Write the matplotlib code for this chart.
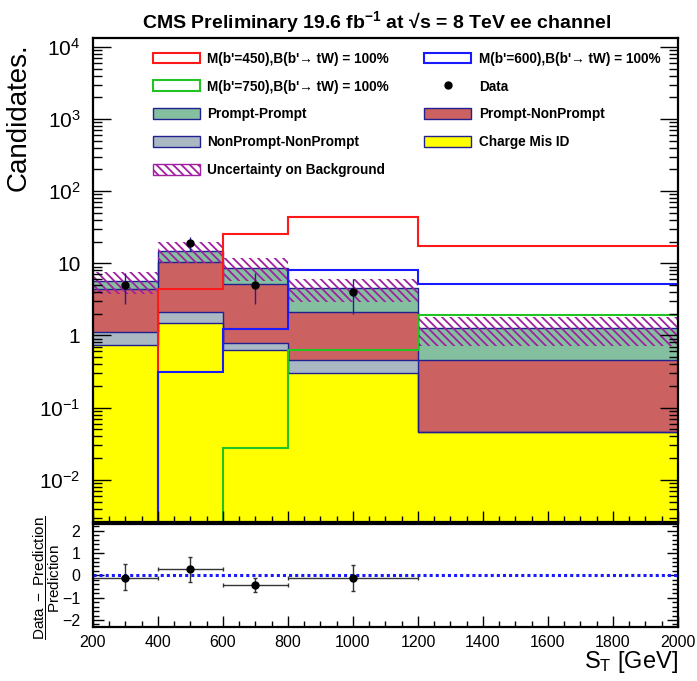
import numpy as np
import matplotlib
matplotlib.use("Agg")
import matplotlib.pyplot as plt
from matplotlib.patches import Patch
from matplotlib.lines import Line2D
from matplotlib.ticker import FixedLocator, MultipleLocator, LogLocator, NullFormatter

plt.rcParams['font.family'] = ['Liberation Sans', 'DejaVu Sans']
plt.rcParams['mathtext.fontset'] = 'custom'
plt.rcParams['mathtext.rm'] = 'Liberation Sans'
plt.rcParams['mathtext.bf'] = 'Liberation Sans:bold'
plt.rcParams['mathtext.it'] = 'Liberation Sans:italic'
plt.rcParams['hatch.linewidth'] = 1.3

# binning in S_T [GeV]
edges = np.array([200, 400, 600, 800, 1200, 2000])

# backgrounds (stacked, bottom to top)
charge_misid = np.array([0.74, 1.48, 0.63, 0.30, 0.046])
nonprompt_nonprompt = np.array([0.39, 0.62, 0.15, 0.15, 0.0])
prompt_nonprompt = np.array([3.24, 8.4, 4.32, 1.65, 0.41])
prompt_prompt = np.array([1.33, 4.5, 3.6, 2.4, 0.80])
bkg_err = np.array([2.0, 4.8, 3.0, 1.6, 0.55])

# signals
sig450 = np.array([0.0, 4.45, 25.5, 43.4, 17.2])
sig600 = np.array([0.0, 0.31, 1.22, 8.0, 5.2])
sig750 = np.array([0.0, 0.0, 0.028, 0.63, 1.95])

# data
data = np.array([5, 19, 5, 4, 0])

# ratio panel (Data - Prediction) / Prediction
ratio = np.array([-0.10, 0.27, -0.44, -0.13])
ratio_up = np.array([0.60, 0.57, 0.34, 0.58])
ratio_dn = np.array([0.56, 0.56, 0.31, 0.55])

c_yellow = '#ffff00'
c_npnp = '#aab8c4'
c_pnp = '#cc6161'
c_pp = '#84bf9f'
c_edge = '#202090'
c_hatch = '#a020a0'

fig = plt.figure(figsize=(6.97, 6.81), dpi=100)
ax = fig.add_axes([0.1334, 0.234, 0.8393, 0.710])
rax = fig.add_axes([0.1334, 0.0797, 0.8393, 0.1508])

centers = 0.5 * (edges[1:] + edges[:-1])
halfw = 0.5 * np.diff(edges)
floor = 1e-5

# stacked backgrounds
layers = [(charge_misid, c_yellow), (nonprompt_nonprompt, c_npnp),
          (prompt_nonprompt, c_pnp), (prompt_prompt, c_pp)]
base = np.full(len(centers), floor)
cum = np.zeros(len(centers))
for vals, col in layers:
    top = cum + vals
    ax.stairs(np.maximum(top, floor), edges, baseline=base, fill=True,
              color=col, linewidth=0)
    cum = top
    base = np.maximum(top, floor)
cum = np.zeros(len(centers))
for vals, col in layers:
    cum = cum + vals
    ax.stairs(np.maximum(cum, floor), edges, baseline=None, color=c_edge, linewidth=1.0)

total = cum
# uncertainty band
ax.bar(edges[:-1], 2 * bkg_err, width=np.diff(edges), bottom=total - bkg_err,
       align='edge', fill=False, hatch='\\\\\\\\', edgecolor=c_hatch, linewidth=0)

# signals
ax.stairs(np.maximum(sig450, floor), edges, baseline=None, color='#ff1a1a', linewidth=1.5)
ax.stairs(np.maximum(sig600, floor), edges, baseline=None, color='#1a1aff', linewidth=1.5)
ax.stairs(np.maximum(sig750, floor), edges, baseline=None, color='#22c322', linewidth=1.5)

# data
m = data > 0
ax.errorbar(centers[m], data[m], yerr=np.sqrt(data[m]), fmt='o', color='black',
            ecolor=c_edge, ms=5, elinewidth=1, capsize=0)

ax.set_yscale('log')
ax.set_xlim(200, 2000)
ax.set_ylim(0.00263, 13200)
ax.yaxis.set_major_locator(FixedLocator([1e-2, 1e-1, 1, 10, 1e2, 1e3, 1e4]))
ax.set_yticklabels(['10$^{-2}$', '10$^{-1}$', '1', '10', '10$^{2}$', '10$^{3}$', '10$^{4}$'])
ax.yaxis.set_minor_locator(LogLocator(base=10, subs=np.arange(2, 10), numticks=20))
ax.yaxis.set_minor_formatter(NullFormatter())
ax.xaxis.set_major_locator(MultipleLocator(200))
ax.xaxis.set_minor_locator(MultipleLocator(50))
ax.tick_params(axis='x', which='both', direction='in', labelbottom=False, top=False)
ax.tick_params(axis='x', which='major', length=8, width=1)
ax.tick_params(axis='x', which='minor', length=4, width=1)
ax.tick_params(axis='y', which='both', direction='in', left=True, right=True, labelsize=15, pad=9)
ax.tick_params(axis='y', which='major', length=13, width=1)
ax.tick_params(axis='y', which='minor', length=6.5, width=1)
for s in ax.spines.values():
    s.set_linewidth(1.6)

# legend
h450 = Patch(facecolor='white', edgecolor='#ff1a1a', linewidth=1.5)
h600 = Patch(facecolor='white', edgecolor='#1a1aff', linewidth=1.5)
h750 = Patch(facecolor='white', edgecolor='#22c322', linewidth=1.5)
hdata = Line2D([], [], marker='o', color='black', linestyle='none', ms=5)
hpp = Patch(facecolor=c_pp, edgecolor=c_edge, linewidth=1)
hpnp = Patch(facecolor=c_pnp, edgecolor=c_edge, linewidth=1)
hnpnp = Patch(facecolor=c_npnp, edgecolor=c_edge, linewidth=1)
hcmid = Patch(facecolor=c_yellow, edgecolor=c_edge, linewidth=1)
hunc = Patch(facecolor='white', edgecolor=c_hatch, hatch='\\\\\\\\', linewidth=1)
handles = [h450, h750, hpp, hnpnp, hunc, h600, hdata, hpnp, hcmid]
labels = ["M(b'=450),B(b'\u2192 tW) = 100%", "M(b'=750),B(b'\u2192 tW) = 100%",
          "Prompt-Prompt", "NonPrompt-NonPrompt", "Uncertainty on Background",
          "M(b'=600),B(b'\u2192 tW) = 100%", "Data", "Prompt-NonPrompt", "Charge Mis ID"]
ax.legend(handles, labels, ncol=2, loc='upper left', bbox_to_anchor=(0.102, 0.972),
          frameon=False, borderpad=0, borderaxespad=0,
          prop={'weight': 'bold', 'size': 9.8},
          handlelength=3.45, handleheight=0.85, handletextpad=0.55,
          labelspacing=1.02, columnspacing=2.6)

# ratio panel
rax.errorbar(centers[:4], ratio, yerr=[ratio_dn, ratio_up], xerr=halfw[:4], fmt='o',
             color='black', ecolor='#333333', ms=5, elinewidth=1, capsize=1.5)
rax.axhline(0, color='#1a1aff', linestyle=(0, (1, 1)), linewidth=2.2)
rax.set_xlim(200, 2000)
rax.set_ylim(-2.3, 2.3)
rax.xaxis.set_major_locator(MultipleLocator(200))
rax.xaxis.set_minor_locator(MultipleLocator(50))
rax.yaxis.set_major_locator(MultipleLocator(1))
rax.yaxis.set_minor_locator(MultipleLocator(0.2))
rax.tick_params(axis='both', which='both', direction='in', labelsize=11.5)
rax.tick_params(axis='x', which='major', length=8, width=1, top=False, pad=6)
rax.tick_params(axis='x', which='minor', length=4, width=1, top=False)
rax.tick_params(axis='y', which='major', length=8, width=1, right=True, pad=9)
rax.tick_params(axis='y', which='minor', length=4, width=1, right=True)
for s in rax.spines.values():
    s.set_linewidth(1.6)

fig.text(0.541, 1 - 28 / 681, "CMS Preliminary 19.6 fb$^{\\mathbf{-1}}$ at \u221as = 8 TeV ee channel",
         ha='center', va='baseline', fontsize=14, fontweight='bold')
fig.text(0.027, 1 - 43 / 681, "Candidates.", rotation=90, ha='center', va='top', fontsize=20)
fig.text(0.067, 1 - 578 / 681, r"$\dfrac{\mathrm{Data\ -\ Prediction}}{\mathrm{Prediction}}$",
         rotation=90, ha='center', va='center', fontsize=11)
fig.text(0.973, 1 - 668 / 681, r"S$_\mathrm{T}$ [GeV]", ha='right', va='baseline', fontsize=17)

fig.savefig('out.png', dpi=100)
